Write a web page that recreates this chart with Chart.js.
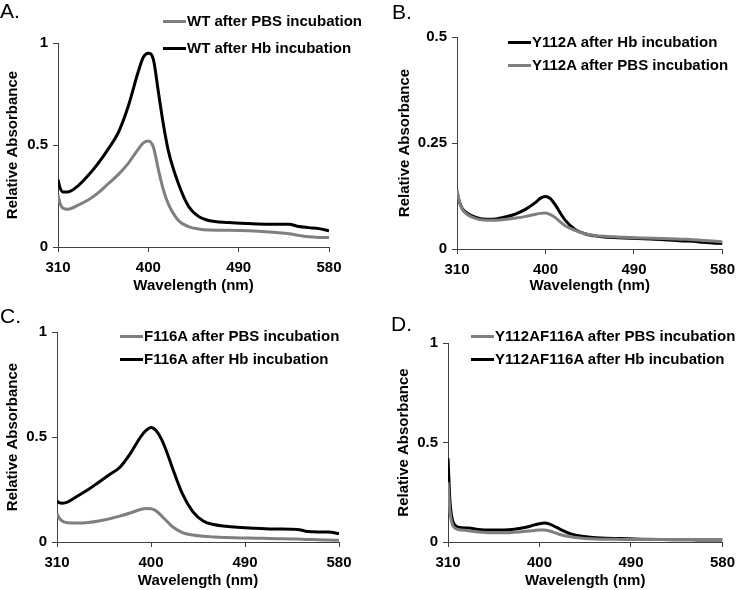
<!DOCTYPE html>
<html>
<head>
<meta charset="utf-8">
<script src="https://cdn.jsdelivr.net/npm/chart.js@4.4.1/dist/chart.umd.min.js"></script>
<style>
body{margin:0;background:#fff;font-family:"Liberation Sans",Arial,sans-serif;}
#fig{position:relative;width:742px;height:590px;overflow:hidden;background:#fff;}
.panel{position:absolute;width:371px;height:295px;}
.tag{position:absolute;font-size:21px;line-height:21px;color:#000;}
.leg{position:absolute;font-size:15px;font-weight:bold;line-height:18px;white-space:nowrap;color:#000;}
.leg span{display:inline-block;width:23px;height:3px;vertical-align:middle;margin-right:1px;position:relative;top:-1px;}
</style>
</head>
<body>
<div id="fig">
  <canvas id="cA" class="panel" width="371" height="295" style="left:0;top:0"></canvas>
  <canvas id="cB" class="panel" width="371" height="295" style="left:371px;top:0"></canvas>
  <canvas id="cC" class="panel" width="371" height="295" style="left:0;top:295px"></canvas>
  <canvas id="cD" class="panel" width="371" height="295" style="left:371px;top:295px"></canvas>
</div>
<script>
var wavelengths = [310,312,315,320,330,340,350,360,370,380,390,395,400,405,410,415,420,430,440,450,460,480,500,520,540,550,560,570,580];

var aPBS = [0.255,0.215,0.19,0.185,0.205,0.23,0.265,0.31,0.355,0.41,0.48,0.51,0.52,0.49,0.38,0.28,0.21,0.13,0.10,0.088,0.083,0.082,0.08,0.074,0.065,0.057,0.05,0.047,0.046];
var aHb  = [0.33,0.29,0.27,0.27,0.30,0.35,0.41,0.48,0.56,0.69,0.86,0.93,0.95,0.92,0.76,0.60,0.47,0.31,0.20,0.15,0.13,0.12,0.115,0.112,0.112,0.10,0.095,0.09,0.08];

var bHb  = [0.135,0.115,0.097,0.085,0.074,0.07,0.071,0.076,0.083,0.094,0.11,0.12,0.124,0.119,0.104,0.085,0.068,0.046,0.036,0.031,0.028,0.026,0.024,0.022,0.019,0.018,0.016,0.014,0.013];
var bPBS = [0.14,0.115,0.095,0.082,0.071,0.068,0.068,0.07,0.073,0.077,0.082,0.084,0.085,0.081,0.074,0.064,0.055,0.044,0.036,0.032,0.03,0.028,0.026,0.025,0.023,0.022,0.02,0.019,0.017];

var cPBS = [0.135,0.115,0.10,0.092,0.09,0.093,0.10,0.11,0.123,0.138,0.155,0.16,0.158,0.148,0.125,0.10,0.075,0.045,0.033,0.027,0.024,0.02,0.018,0.016,0.014,0.012,0.011,0.009,0.008];
var cHb  = [0.195,0.188,0.185,0.19,0.22,0.25,0.285,0.32,0.355,0.42,0.50,0.53,0.545,0.53,0.49,0.43,0.36,0.23,0.145,0.10,0.083,0.071,0.066,0.062,0.06,0.05,0.048,0.048,0.04];

var dPBS = [0.30,0.15,0.08,0.063,0.057,0.05,0.047,0.046,0.047,0.05,0.055,0.058,0.06,0.06,0.055,0.047,0.038,0.026,0.02,0.016,0.014,0.013,0.012,0.012,0.012,0.012,0.012,0.012,0.012];
var dHb  = [0.42,0.20,0.10,0.075,0.07,0.063,0.06,0.06,0.062,0.068,0.078,0.086,0.092,0.095,0.09,0.078,0.065,0.042,0.03,0.024,0.02,0.017,0.014,0.012,0.011,0.011,0.01,0.01,0.01];

var xTicks = [310, 400, 490, 580];
var yTicksFull = [0, 0.5, 1];
var yTicksHalf = [0, 0.25, 0.5];

var GRAY = '#7f7f7f';
var BLACK = '#000000';
var AXIS = '#404040';
var FONT = '"Liberation Sans", Arial, sans-serif';

function points(vals){
	return wavelengths.map(function(w, i){ return {x: w, y: vals[i]}; });
}

function serie(label, vals, color){
	return {
		label: label,
		data: points(vals),
		borderColor: color,
		backgroundColor: color,
		borderWidth: 3,
		pointRadius: 0,
		fill: false,
		cubicInterpolationMode: 'monotone'
	};
}

function exibirPainel(id, letter, datasets, yTicks, box, legendPos){
	var tickFont = {family: FONT, size: 15, weight: 'bold'};

	var options = {
		responsive: false,
		animation: false,
		layout: {padding: {left: box.padLeft, right: box.padRight, top: box.padTop, bottom: 0}},
		plugins: {legend: {display: false}, tooltip: {enabled: false}},
		scales: {
			x: {
				type: 'linear',
				min: 310, max: 580,
				afterBuildTicks: function(s){ s.ticks = xTicks.map(function(v){ return {value: v}; }); },
				afterFit: function(s){ s.height = box.xHeight; },
				grid: {display: true, drawOnChartArea: false, drawTicks: true, tickLength: 5, color: AXIS},
				border: {display: true, color: AXIS, width: 1},
				ticks: {color: '#000', font: tickFont, padding: 7, maxRotation: 0, callback: function(v){ return String(v); }},
				title: {display: true, text: 'Wavelength (nm)', color: '#000', font: tickFont, padding: {top: 0, bottom: 0}}
			},
			y: {
				min: 0, max: yTicks[yTicks.length - 1],
				afterBuildTicks: function(s){ s.ticks = yTicks.map(function(v){ return {value: v}; }); },
				afterFit: function(s){ s.width = box.yWidth; },
				grid: {display: true, drawOnChartArea: false, drawTicks: true, tickLength: 5, color: AXIS},
				border: {display: true, color: AXIS, width: 1},
				ticks: {color: '#000', font: tickFont, padding: 5, callback: function(v){ return String(v); }},
				title: {display: true, text: 'Relative Absorbance', color: '#000', font: tickFont, padding: {top: 4, bottom: 0}}
			}
		}
	};

	var ctx = document.getElementById(id).getContext('2d');
	new Chart(ctx, {type: 'line', data: {datasets: datasets}, options: options});

	// panel letter and legend as html text
	var canvas = document.getElementById(id);
	var fig = document.getElementById('fig');
	var ox = parseInt(canvas.style.left) || 0;
	var oy = parseInt(canvas.style.top) || 0;

	var tag = document.createElement('div');
	tag.className = 'tag';
	tag.style.left = (ox + letter.x) + 'px';
	tag.style.top = (oy + letter.y) + 'px';
	tag.textContent = letter.text;
	fig.appendChild(tag);

	legendPos.order.forEach(function(idx, k){
		var ds = datasets[idx];
		var item = document.createElement('div');
		item.className = 'leg';
		item.style.left = (ox + legendPos.x) + 'px';
		item.style.top = (oy + legendPos.y[k] - 9) + 'px';
		var sw = document.createElement('span');
		sw.style.background = ds.borderColor;
		item.appendChild(sw);
		item.appendChild(document.createTextNode(ds.label));
		fig.appendChild(item);
	});
}

exibirPainel('cA', {text: 'A.', x: 0, y: 0},
	[serie('WT after PBS incubation', aPBS, GRAY), serie('WT after Hb incubation', aHb, BLACK)],
	yTicksFull,
	{padLeft: 0, yWidth: 58, padRight: 42, padTop: 43, xHeight: 48},
	{x: 163, y: [21, 48], order: [0, 1]});

exibirPainel('cB', {text: 'B.', x: 21, y: 1},
	[serie('Y112A after PBS incubation', bPBS, GRAY), serie('Y112A after Hb incubation', bHb, BLACK)],
	yTicksHalf,
	{padLeft: 21, yWidth: 65, padRight: 14, padTop: 37, xHeight: 46},
	{x: 137, y: [42, 65], order: [1, 0]});

exibirPainel('cC', {text: 'C.', x: 0, y: 10},
	[serie('F116A after Hb incubation', cHb, BLACK), serie('F116A after PBS incubation', cPBS, GRAY)],
	yTicksFull,
	{padLeft: 0, yWidth: 57, padRight: 32, padTop: 37, xHeight: 48},
	{x: 120, y: [41, 64], order: [1, 0]});

exibirPainel('cD', {text: 'D.', x: 20, y: 18},
	[serie('Y112AF116A after PBS incubation', dPBS, GRAY), serie('Y112AF116A after Hb incubation', dHb, BLACK)],
	yTicksFull,
	{padLeft: 20, yWidth: 57, padRight: 18, padTop: 48, xHeight: 48},
	{x: 100, y: [41, 64], order: [0, 1]});
</script>
</body>
</html>
